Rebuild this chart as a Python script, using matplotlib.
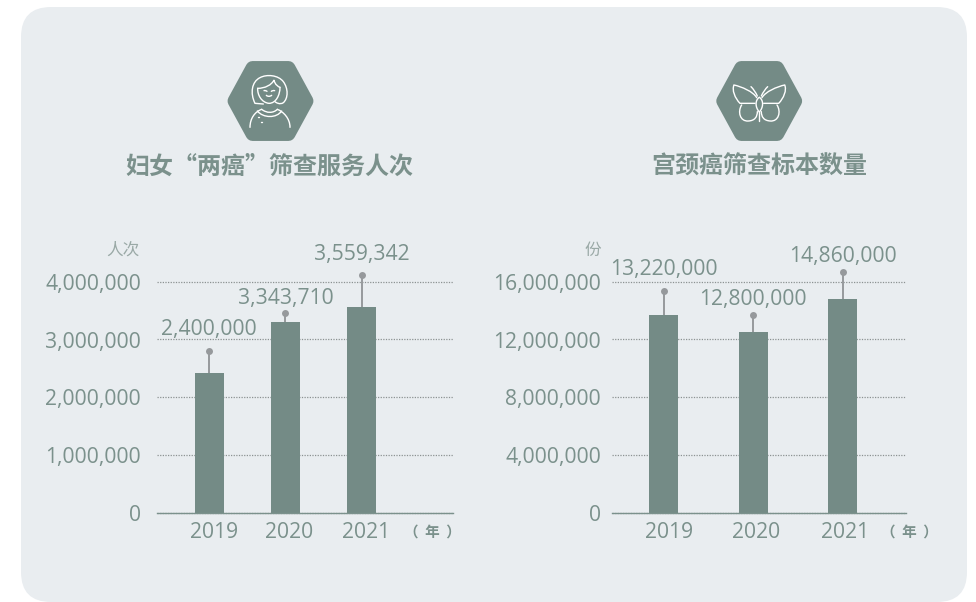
# 妇女"两癌"筛查 / 宫颈癌筛查标本 막대그래프
import matplotlib
matplotlib.use('Agg')
import matplotlib.pyplot as plt
from matplotlib.patches import FancyBboxPatch, PathPatch, Polygon
from matplotlib.path import Path
from matplotlib.transforms import ScaledTranslation

plt.rcParams['font.family'] = ['Open Sans', 'Noto Sans CJK SC', 'DejaVu Sans']

years = ['2019', '2020', '2021']

left_title = '妇女“两癌”筛查服务人次'
left_bars = [2415000, 3300000, 3560000]
left_pins = [2797000, 3455000, 4113000]
left_labels = ['2,400,000', '3,343,710', '3,559,342']
left_ticks = [0, 1000000, 2000000, 3000000, 4000000]

right_title = '宫颈癌筛查标本数量'
right_bars = [13680000, 12500000, 14790000]
right_pins = [15340000, 13680000, 16660000]
right_labels = ['13,220,000', '12,800,000', '14,860,000']
right_ticks = [0, 4000000, 8000000, 12000000, 16000000]

PANEL = '#e9edf0'
GREEN = '#748b86'
TEXT = '#7b918c'
PIN = '#96999c'
CJK = 'Noto Sans CJK SC'
W, H = 976, 602

fig = plt.figure(figsize=(9.76, 6.02), dpi=100, facecolor='white')

# 배경 + 아이콘은 픽셀 좌표로 그림
bg = fig.add_axes([0, 0, 1, 1])
bg.set_xlim(0, W)
bg.set_ylim(H, 0)
bg.axis('off')
bg.add_patch(FancyBboxPatch((21, 7), 946, 595, boxstyle='round,pad=0,rounding_size=30',
                            fc=PANEL, ec='none'))


def hexagon(cx, cy=101):
    pts = [(cx - 36, cy), (cx - 18, cy - 33), (cx + 18, cy - 33),
           (cx + 36, cy), (cx + 18, cy + 33), (cx - 18, cy + 33)]
    bg.add_patch(Polygon(pts, closed=True, fc=GREEN, ec=GREEN, lw=10, joinstyle='round'))


def stroke(ox, oy, start, *curves, lw=1.0):
    # 확대 이미지(3배) 좌표로 적은 곡선을 원래 픽셀로 변환
    verts = [start]
    codes = [Path.MOVETO]
    for c in curves:
        verts += c
        codes += [Path.LINETO] if len(c) == 1 else [Path.CURVE4] * 3
    verts = [(ox + x / 3, oy + y / 3) for x, y in verts]
    bg.add_patch(PathPatch(Path(verts, codes), fc='none', ec='white', lw=lw, capstyle='round'))


hexagon(270.5)
hexagon(759.2)

# 여성 아이콘
o = (200, 50)
stroke(*o, (190, 162), [(165, 160)], [(150, 130), (155, 95), (180, 83)],
       [(200, 72), (235, 75), (250, 95)], [(265, 115), (265, 145), (250, 158)],
       [(240, 165), (228, 158), (225, 155)])
stroke(*o, (173, 115), [(172, 135), (185, 158), (207, 160)], [(228, 160), (240, 135), (240, 112)])
stroke(*o, (173, 115), [(195, 115), (215, 105), (222, 90)], [(225, 105), (235, 110), (240, 112)])
stroke(*o, (192, 122), [(195, 121), (198, 122), (201, 124)])
stroke(*o, (214, 124), [(217, 122), (220, 121), (224, 122)])
stroke(*o, (199, 136), [(203, 140), (210, 140), (215, 136)])
stroke(*o, (150, 232), [(150, 205), (165, 185), (185, 178)])
stroke(*o, (270, 232), [(270, 205), (250, 185), (232, 178)])
stroke(*o, (172, 183), [(190, 205), (230, 205), (245, 183)])
stroke(*o, (185, 178), [(200, 190), (220, 190), (232, 178)])
stroke(*o, (175, 202), [(177, 202)])
stroke(*o, (183, 215), [(185, 215)])

# 나비 아이콘 (x=178 기준 좌우 대칭)
o = (700, 50)
for m in [lambda x: x, lambda x: 356 - x]:
    stroke(*o, (m(165), 160), [(m(120), 160)], [(m(105), 145), (m(95), 120), (m(102), 105)],
           [(m(125), 110), (m(160), 125), (m(170), 143)])
    stroke(*o, (m(125), 165), [(m(112), 185), (m(120), 215), (m(145), 213)],
           [(m(165), 212), (m(172), 200), (m(172), 185)])
    stroke(*o, (m(172), 138), [(m(167), 127), (m(160), 117), (m(153), 110)])
    stroke(*o, (178, 142), [(m(165), 150), (m(165), 172), (178, 186)])
stroke(*o, (178, 186), [(178, 212)])

bg.text(269, 167, left_title, ha='center', va='center', fontsize=17.3, fontweight='bold',
        color=TEXT, family=CJK)
bg.text(759.5, 167, right_title, ha='center', va='center', fontsize=17.3, fontweight='bold',
        color=TEXT, family=CJK)
bg.text(123, 250, '人次', ha='center', va='center', fontsize=12, color='#9aa9a6', family=CJK)
bg.text(593, 250, '份', ha='center', va='center', fontsize=12, color='#9aa9a6', family=CJK)
bg.text(432, 531.5, '（  年  ）', ha='center', va='center', fontsize=10.5, fontweight='bold',
        color=TEXT, family=CJK)
bg.text(909, 531.5, '（  年  ）', ha='center', va='center', fontsize=10.5, fontweight='bold',
        color=TEXT, family=CJK)


def chart(x0, x1, first, step, bars, pins, labels, ticks, label_dy, year_dx, pad):
    ax = fig.add_axes([x0 / W, 1 - 512.5 / H, (x1 - x0) / W, 231 / H])
    ax.patch.set_alpha(0)
    xs = range(len(bars))
    ax.set_xlim((x0 - first) / step, (x1 - first) / step)
    ax.set_ylim(0, ticks[-1])
    ax.set_axisbelow(True)
    ax.bar(xs, bars, width=29 / step, color=GREEN, zorder=3)
    ax.vlines(xs, bars, pins, color=PIN, lw=1.4, zorder=2, clip_on=False)
    ax.plot(xs, pins, 'o', color=PIN, ms=5, mew=0, clip_on=False, zorder=2)
    for x, p, t, dy in zip(xs, pins, labels, label_dy):
        ax.annotate(t, (x, p), xytext=(0, dy * 0.72), textcoords='offset points', ha='center',
                    va='center', fontsize=15.2, color=TEXT, annotation_clip=False)
    for x, t, dx in zip(xs, years, year_dx):
        ax.annotate(t, (x, 0), xytext=(dx * 0.72, -20.5 * 0.72), textcoords='offset points',
                    ha='center', va='center', fontsize=15.2, color=TEXT, annotation_clip=False)
    ax.set_xticks([])
    ax.set_yticks(ticks, [f'{v:,}' for v in ticks])
    ax.tick_params(axis='y', length=0, pad=pad * 0.72, labelsize=15.2, labelcolor=TEXT)
    # 눈금 글자가 살짝 위로 뜨므로 조금 내림
    down = ScaledTranslation(0, -0.5 / 100, fig.dpi_scale_trans)
    for t in ax.get_yticklabels():
        t.set_transform(t.get_transform() + down)
    ax.grid(axis='y', color='#8c9292', lw=0.9, ls=(0, (1, 1.1)))
    for g in ax.get_ygridlines():
        g.set_clip_on(False)
    for s in ['top', 'left', 'right']:
        ax.spines[s].set_visible(False)
    ax.spines['bottom'].set_color(TEXT)
    ax.spines['bottom'].set_linewidth(1.0)
    ax.spines['bottom'].set_zorder(4)


chart(157, 453, 209.2, 76.2, left_bars, left_pins, left_labels, left_ticks, [21, 14, 20], [5, 4, 4], 16)
chart(612, 906, 663.7, 89.5, right_bars, right_pins, right_labels, right_ticks, [22, 15, 15], [5, 3, 2], 11)

fig.savefig('out.png', dpi=100, facecolor='white')
